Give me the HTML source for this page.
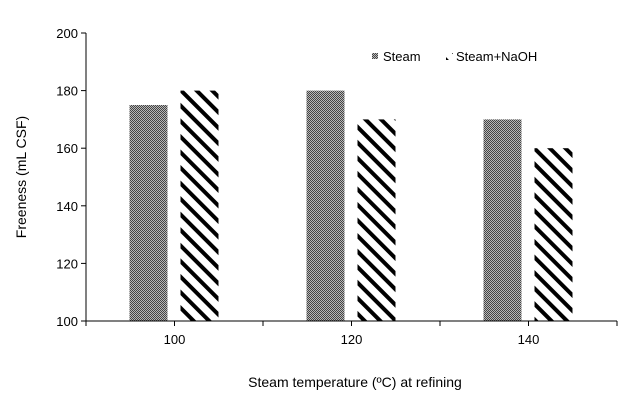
<!DOCTYPE html>
<html><head><meta charset="utf-8"><style>
body{margin:0;background:#fff;}
svg text{font-family:"Liberation Sans",Arial,sans-serif;fill:#000;}
</style></head><body>
<svg width="632" height="403" viewBox="0 0 632 403">
<defs>
<pattern id="dots" width="2" height="2" patternUnits="userSpaceOnUse">
<rect width="2" height="2" fill="#b8b8b8"/><rect width="1" height="1" fill="#444"/><rect x="1" y="1" width="1" height="1" fill="#444"/>
</pattern>
<pattern id="diag" width="11" height="11" patternUnits="userSpaceOnUse" patternTransform="rotate(45)">
<rect width="11" height="11" fill="#fff"/><rect width="11" height="4" fill="#000"/>
</pattern>
</defs>
<g id="bars"></g>
<g id="axes"></g>
<g>
<rect x="372" y="53" width="6" height="6" fill="url(#dots)"/>
<text x="383" y="61" font-size="13">Steam</text>
<rect x="446" y="53" width="7" height="7" fill="url(#diag)"/>
<text x="456" y="61" font-size="13">Steam+NaOH</text>
</g>
<text x="355" y="387" font-size="14" text-anchor="middle">Steam temperature (ºC) at refining</text>
<text transform="translate(26,177) rotate(-90)" font-size="14" text-anchor="middle">Freeness (mL CSF)</text>
</svg>
<script>
const categories=["100","120","140"];
const steam=[175,180,170];
const steamNaoh=[180,170,160];
const yTicks=[100,120,140,160,180,200];
const ns="http://www.w3.org/2000/svg";
const x0=86,x1=617,yTop=33,yBot=321,yMin=100,yMax=200;
const groupW=(x1-x0)/categories.length;
function y(v){return yBot-(v-yMin)/(yMax-yMin)*(yBot-yTop);}
function cx(i){return x0+groupW*(i+0.5);}
function mk(tag,attrs,parent){const e=document.createElementNS(ns,tag);for(const k in attrs)e.setAttribute(k,attrs[k]);parent.appendChild(e);return e;}
const bars=document.getElementById('bars'),axes=document.getElementById('axes');
categories.forEach((c,i)=>{
 let r=mk('rect',{x:cx(i)-45,y:y(steam[i]),width:38,height:yBot-y(steam[i]),fill:'url(#dots)'},bars);
 
 
 let r2=mk('rect',{x:cx(i)+6,y:y(steamNaoh[i]),width:38,height:yBot-y(steamNaoh[i]),fill:'url(#diag)'},bars);
 
 
 let t=mk('text',{x:cx(i),y:344,'font-size':13,'text-anchor':'middle'},axes);
 t.textContent=c;
 
 
});
for(let k=0;k<=categories.length*2;k++){
 const xx=x0+groupW/2*k;
 mk('line',{x1:xx,x2:xx,y1:yBot,y2:yBot+5,stroke:'#000'},axes);
}
yTicks.forEach(v=>{
 mk('line',{x1:x0-5,x2:x0,y1:y(v),y2:y(v),stroke:'#000'},axes);
 let t=mk('text',{x:x0-8,y:y(v)+5,'font-size':13,'text-anchor':'end'},axes);
 t.textContent=v;
 
 
});
let ya=mk('line',{x1:x0,x2:x0,y1:yTop,y2:yBot,stroke:'#000'},axes);


let xa=mk('line',{x1:x0-5,x2:x1,y1:yBot,y2:yBot,stroke:'#000'},axes);


</script>
</body></html>
